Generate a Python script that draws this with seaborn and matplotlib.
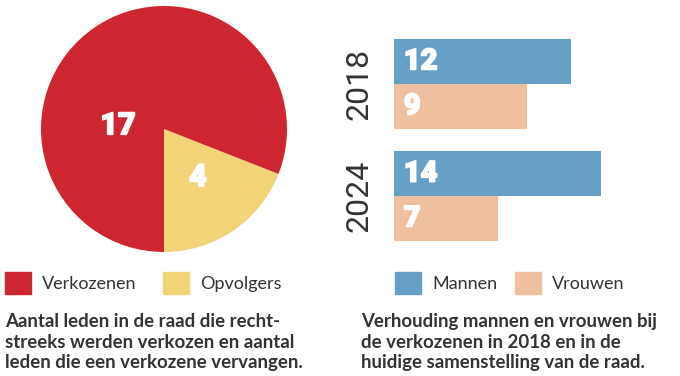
import matplotlib
matplotlib.use('Agg')
import matplotlib.pyplot as plt
import matplotlib.patheffects as pe
import seaborn as sns
import pandas as pd
from matplotlib.patches import Patch

# ---- data ----
pie_labels = ['Verkozenen', 'Opvolgers']
pie_values = [17, 4]
years = ['2018', '2024']
genders = ['Mannen', 'Vrouwen']
mannen = [12, 14]
vrouwen = [9, 7]
caption_left = "Aantal leden in de raad die recht-\nstreeks werden verkozen en aantal\nleden die een verkozene vervangen."
caption_right = "Verhouding mannen en vrouwen bij\nde verkozenen in 2018 en in de\nhuidige samenstelling van de raad."

RED = '#CE2630'
YELLOW = '#F2D377'
BLUE = '#67A0C6'
PEACH = '#EEC0A0'
TXT = '#333333'

sns.set_theme(style='white')
plt.rcParams['font.family'] = ['Lato', 'DejaVu Sans']

W, H = 680, 376
fig = plt.figure(figsize=(6.8, 3.76), dpi=100)
fig.patch.set_facecolor('white')

NUM = dict(color='white', fontfamily=['Roboto', 'DejaVu Sans'], fontweight='black',
           path_effects=[pe.withStroke(linewidth=1.2, foreground='white')])


def box(x0, y0, x1, y1):
    return [x0 / W, 1 - y1 / H, (x1 - x0) / W, (y1 - y0) / H]


# ---- pie ----
axp = fig.add_axes(box(41, 6, 287, 252))
axp.pie([pie_values[1], pie_values[0]], colors=[YELLOW, RED], startangle=-90,
        counterclock=True, radius=1, wedgeprops=dict(linewidth=0))
axp.set_xlim(-1, 1)
axp.set_ylim(-1, 1)
axp.set_aspect('equal')
axp.axis('off')
axp.text(-0.375, 0.03, str(pie_values[0]), fontsize=22, ha='center', va='center', **NUM)
axp.text(0.276, -0.39, str(pie_values[1]), fontsize=22, ha='center', va='center', **NUM)

# ---- bars ----
df = pd.DataFrame({
    'Jaar': years * 2,
    'Geslacht': [genders[0]] * len(years) + [genders[1]] * len(years),
    'Aantal': mannen + vrouwen,
})
axb = fig.add_axes(box(394, 39, 601, 241))
sns.barplot(data=df, y='Jaar', x='Aantal', hue='Geslacht', hue_order=genders,
            palette=[BLUE, PEACH], orient='h', ax=axb, width=0.8,
            saturation=1, linewidth=0, legend=False)
axb.set_xlim(0, 14)
axb.set_ylim(1.4, -0.4)
for cont in axb.containers:
    for bar in cont:
        axb.annotate(f"{int(round(bar.get_width()))}",
                     xy=(bar.get_x(), bar.get_y() + bar.get_height() / 2),
                     xytext=(7, 0), textcoords='offset points',
                     fontsize=21, ha='left', va='center', **NUM)
axb.set_xticks([])
axb.set_yticks([0, 1])
axb.set_yticklabels(years, rotation=90, va='center', fontsize=23,
                    fontfamily=['Roboto', 'DejaVu Sans'], fontweight='normal',
                    color=TXT)
axb.tick_params(axis='y', left=False, pad=9)
axb.set_xlabel('')
axb.set_ylabel('')
for s in axb.spines.values():
    s.set_visible(False)
axb.set_facecolor('none')

# ---- legends ----
leg_kw = dict(frameon=False, ncol=2, fontsize=13, handlelength=1.45,
              handleheight=1.45, handletextpad=0.6,
              borderpad=0, borderaxespad=0, loc='center left', labelcolor=TXT)
fig.legend(handles=[Patch(color=RED), Patch(color=YELLOW)], labels=pie_labels,
           bbox_to_anchor=(5 / W, 1 - 283 / H), columnspacing=1.45, **leg_kw)
fig.legend(handles=[Patch(color=BLUE), Patch(color=PEACH)], labels=genders,
           bbox_to_anchor=(395 / W, 1 - 283 / H), columnspacing=1.0, **leg_kw)

# ---- captions ----
for x, txt in [(5, caption_left), (361, caption_right)]:
    fig.text(x / W, 1 - 313 / H, txt, fontsize=13.4, fontweight='bold',
             color=TXT, ha='left', va='top', linespacing=1.25)

fig.savefig('out.png', dpi=100, facecolor='white')
